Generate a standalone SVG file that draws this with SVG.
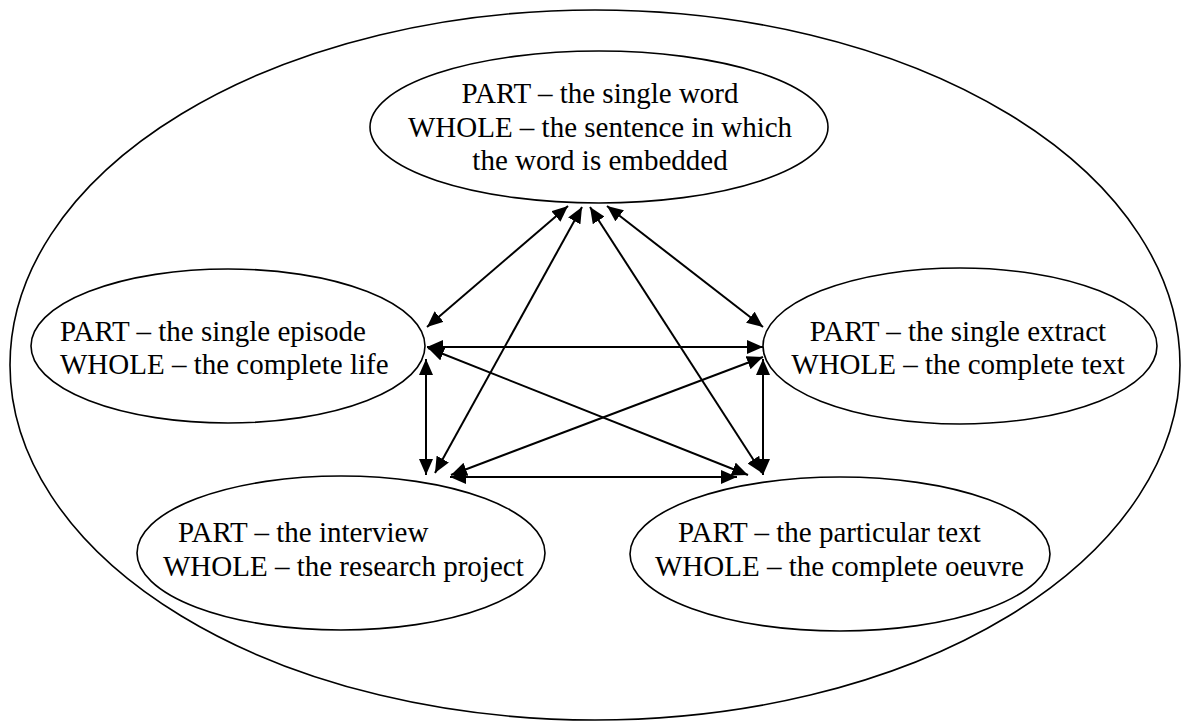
<svg xmlns="http://www.w3.org/2000/svg" width="1184" height="722" viewBox="0 0 1184 722">
  <style>
    .shape { fill: none; stroke: #000; stroke-width: 1.6; }
    .lbl { font-size: 29px; fill: #000; }
    .mid { text-anchor: middle; }
    .link { stroke: #000; stroke-width: 2; fill: none; marker-start: url(#head); marker-end: url(#head); }
  </style>
  <defs>
    <marker id="head" markerUnits="userSpaceOnUse" markerWidth="17" markerHeight="14" refX="16" refY="7" orient="auto-start-reverse">
      <path d="M0,0 L16,7 L0,14 z" fill="#000"/>
    </marker>
  </defs>
  <rect width="1184" height="722" fill="#fff"/>

  <!-- enclosing boundary -->
  <g id="boundary">
    <ellipse class="shape" cx="595" cy="365" rx="585" ry="355"/>
  </g>

  <g font-family="Liberation Serif, Times New Roman, Times, serif">
  <!-- part / whole pairs -->
  <g id="word">
    <ellipse class="shape" cx="599" cy="127" rx="229" ry="76"/>
    <text class="lbl mid" x="600" y="103">PART – the single word</text>
    <text class="lbl mid" x="600" y="137">WHOLE – the sentence in which</text>
    <text class="lbl mid" x="600" y="170">the word is embedded</text>
  </g>
  <g id="episode">
    <ellipse class="shape" cx="228" cy="346" rx="197" ry="77"/>
    <text class="lbl" x="60" y="341">PART – the single episode</text>
    <text class="lbl" x="60" y="374">WHOLE – the complete life</text>
  </g>
  <g id="extract">
    <ellipse class="shape" cx="960" cy="346" rx="197" ry="78"/>
    <text class="lbl mid" x="958" y="341">PART – the single extract</text>
    <text class="lbl mid" x="958" y="374">WHOLE – the complete text</text>
  </g>
  <g id="interview">
    <ellipse class="shape" cx="341" cy="553" rx="204" ry="77"/>
    <text class="lbl" x="178" y="542">PART – the interview</text>
    <text class="lbl" x="163" y="576">WHOLE – the research project</text>
  </g>
  <g id="particular">
    <ellipse class="shape" cx="840" cy="554" rx="210" ry="77"/>
    <text class="lbl" x="678" y="542">PART – the particular text</text>
    <text class="lbl" x="655" y="576">WHOLE – the complete oeuvre</text>
  </g>
  </g>

  <!-- two-way links between every pair -->
  <g id="connectors">
    <line class="link" x1="568" y1="206" x2="427" y2="327"/>
    <line class="link" x1="582" y1="207" x2="435" y2="473"/>
    <line class="link" x1="590" y1="207" x2="762" y2="473"/>
    <line class="link" x1="607" y1="206" x2="763" y2="327"/>
    <line class="link" x1="427" y1="347" x2="763" y2="347"/>
    <line class="link" x1="426" y1="359" x2="426" y2="475"/>
    <line class="link" x1="763" y1="359" x2="763" y2="475"/>
    <line class="link" x1="428" y1="348" x2="748" y2="475"/>
    <line class="link" x1="763" y1="357" x2="451" y2="475"/>
    <line class="link" x1="450" y1="477" x2="737" y2="477"/>
  </g>
</svg>
